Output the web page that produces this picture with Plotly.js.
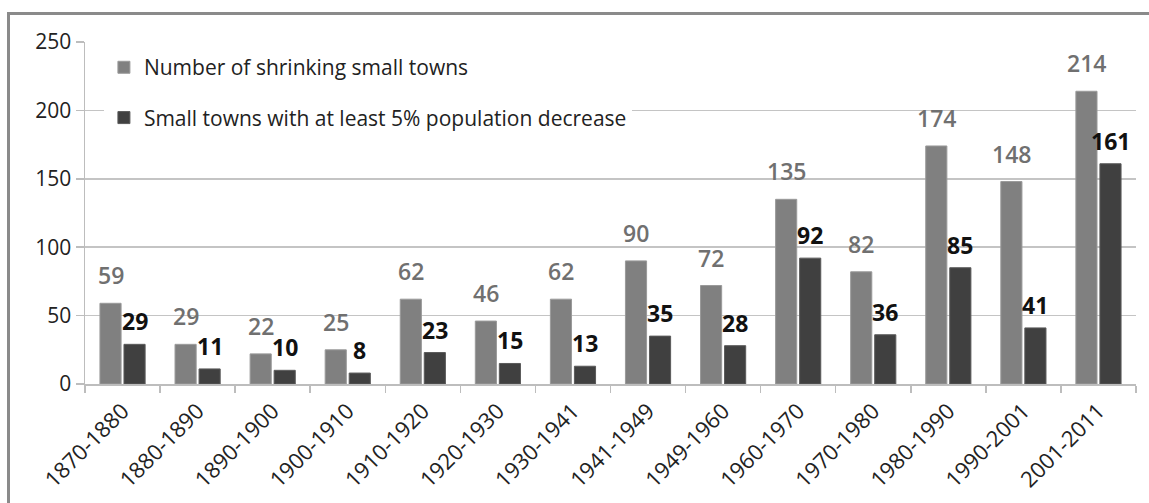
<!DOCTYPE html>
<html>
<head>
<meta charset="utf-8">
<script src="https://cdn.plot.ly/plotly-3.0.1.min.js"></script>
<style>
  html, body { margin: 0; padding: 0; background: #fff; overflow: hidden; }
  #chart { position: absolute; left: 0; top: 0; width: 1149px; height: 503px; }
  #frame { position: absolute; left: 7px; top: 12px; width: 1200px; height: 600px;
           border: 3px solid #8a8a8a; box-sizing: border-box; pointer-events: none; }
</style>
</head>
<body>
<div id="chart"></div>
<div id="frame"></div>
<script>
const periods = ["1870-1880","1880-1890","1890-1900","1900-1910","1910-1920","1920-1930","1930-1941","1941-1949","1949-1960","1960-1970","1970-1980","1980-1990","1990-2001","2001-2011"];
const shrinking = [59,29,22,25,62,46,62,90,72,135,82,174,148,214];
const decrease5 = [29,11,10,8,23,15,13,35,28,92,36,85,41,161];
const seriesNames = ["Number of shrinking small towns", "Small towns with at least 5% population decrease"];
const yTicks = [0,50,100,150,200,250];

const FONT = "'Open Sans', Lato, sans-serif";

const traces = [
  {
    type: "bar", x: periods, y: shrinking, name: seriesNames[0],
    legendgroup: "a",
    marker: { color: "#808080", line: { color: "#9a9a9a", width: 1 } },
    hoverinfo: "none"
  },
  {
    type: "bar", x: periods, y: decrease5, name: seriesNames[1],
    legendgroup: "b",
    marker: { color: "#404040", line: { color: "#5a5a5a", width: 1 } },
    hoverinfo: "none"
  }
];

// value labels placed at each bar's value through the axes
const labelsA = periods.map((p, i) => ({
  x: p, y: shrinking[i], xref: "x", yref: "y", text: String(shrinking[i]),
  showarrow: false, xanchor: "center", yanchor: "bottom", xshift: -12, yshift: 10,
  font: { family: FONT, size: 23, color: "#707070", weight: 600 }
}));
const labelsB = periods.map((p, i) => ({
  x: p, y: decrease5[i], xref: "x", yref: "y", text: "<b>" + decrease5[i] + "</b>",
  showarrow: false, xanchor: "center", yanchor: "bottom", xshift: 12, yshift: 5,
  font: { family: FONT, size: 23, color: "#111111" }
}));

const layout = {
  width: 1149, height: 503,
  margin: { l: 85, r: 13, t: 42, b: 119 },
  paper_bgcolor: "#ffffff", plot_bgcolor: "#ffffff",
  font: { family: FONT, size: 20, color: "#222" },
  barmode: "group", bargap: 0.36, bargroupgap: 0.12,
  showlegend: true,
  legend: {
    x: 0.018, y: 0.985, xanchor: "left", yanchor: "top",
    bgcolor: "#ffffff", borderwidth: 0,
    traceorder: "grouped", tracegroupgap: 20,
    font: { family: FONT, size: 21, color: "#222" }
  },
  annotations: labelsA.concat(labelsB),
  xaxis: {
    type: "category", tickangle: -45, tickson: "boundaries",
    ticks: "outside", ticklen: 7, tickcolor: "#bdbdbd", tickwidth: 1.5,
    showline: true, linecolor: "#bdbdbd", linewidth: 1.5,
    showgrid: false, ticklabelstandoff: 4,
    tickfont: { family: FONT, size: 22, color: "#222" }
  },
  yaxis: {
    range: [0, 250], tickvals: yTicks, ticktext: yTicks.map(String),
    ticks: "outside", ticklen: 8, tickcolor: "#bdbdbd", tickwidth: 1.5,
    showline: true, linecolor: "#bdbdbd", linewidth: 1.5,
    showgrid: true, gridcolor: "#c4c4c4", gridwidth: 1.5,
    zeroline: false,
    tickfont: { family: FONT, size: 21, color: "#222" }
  }
};

Plotly.newPlot("chart", traces, layout, { displayModeBar: false, staticPlot: true });
</script>
</body>
</html>
